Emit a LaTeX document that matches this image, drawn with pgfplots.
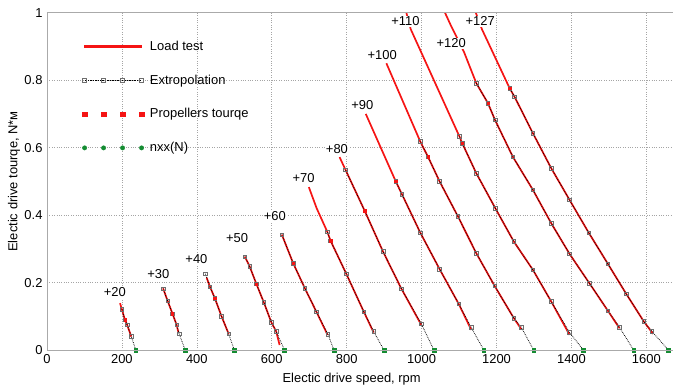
\documentclass[border=0pt]{standalone}
\usepackage{fontspec}
\setmainfont{Liberation Sans}
\usepackage{pgfplots}
\pgfplotsset{compat=1.18}
\definecolor{gridgray}{RGB}{165,165,165}
\definecolor{axgray}{RGB}{170,170,170}
\definecolor{sqgray}{RGB}{110,110,110}
\definecolor{nxxgreen}{RGB}{20,140,50}
\definecolor{loadred}{RGB}{245,20,20}
\begin{document}
\begin{tikzpicture}
\begin{axis}[
  name=ax,
  font=\fontsize{13}{15}\selectfont,
  /pgf/number format/assume math mode=true,
  scale only axis, width=626bp, height=337.6bp,
  xmin=0, xmax=1670, ymin=0, ymax=1,
  xtick={0,200,400,600,800,1000,1200,1400,1600},
  ytick={0,0.2,0.4,0.6,0.8,1},
  yticklabels={0,0.2,0.4,0.6,0.8,1},
  xticklabels={0,200,400,600,800,1000,1200,1400,1600},
  grid=major,
  major grid style={gridgray, dotted, line width=0.6pt},
  axis line style={draw=none},
  major tick length=0pt,
  xlabel={Electic drive speed, rpm},
  ylabel={Electic drive tourqe, N*м},
  xticklabel style={yshift=-1bp},
  yticklabel style={inner sep=1bp, xshift=-3.3bp},
  xlabel style={at={(ticklabel cs:0.487)}, yshift=-3bp},
  legend style={at={(axis description cs:0.056,0.92)}, anchor=north west, draw=none, fill=none,
    inner sep=0pt, row sep=21bp, column sep=0pt, nodes={inner sep=1bp}},
  legend cell align=left,
  every axis plot/.append style={forget plot},
]
\addlegendimage{legend image code/.code={\fill[loadred] (0bp,-0.8bp) rectangle (57bp,0.8bp);}}
\addlegendentry{\hspace{5bp}Load test}
\addlegendimage{legend image code/.code={\draw[black, densely dotted, line width=0.7pt] (0bp,0bp) -- (57bp,0bp);
  \foreach \q in {0,19,38,57}{\draw[sqgray, line width=0.6pt] (\q bp-2bp,-2bp) rectangle (\q bp+2bp,2bp);}}}
\addlegendentry{\hspace{5bp}Extropolation}
\addlegendimage{legend image code/.code={\foreach \q in {0,19,38,57}{\fill[loadred] (\q bp-2.2bp,-2.2bp) rectangle (\q bp+2.2bp,2.2bp);}}}
\addlegendentry{\hspace{5bp}Propellers tourqe}
\addlegendimage{legend image code/.code={\foreach \q in {0,19,38,57}{\fill[nxxgreen] (\q bp,0bp) circle (2.2bp);}}}
\addlegendentry{\hspace{5bp}nxx(N)}

% ---------- Load test (red lines) ----------
\pgfplotsset{loadstyle/.style={loadred, line width=1.7pt}}
\addplot[loadstyle] coordinates {(195,0.139) (200,0.121) (208,0.090) (214,0.075) (225,0.040)};
\addplot[loadstyle] coordinates {(310,0.183) (322,0.146) (335,0.108) (346,0.075) (351,0.052)};
\addplot[loadstyle] coordinates {(426,0.215) (435,0.188) (448,0.154) (466,0.100) (485,0.048)};
\addplot[loadstyle] coordinates {(528,0.277) (541,0.248) (559,0.196) (579,0.141) (599,0.082) (612,0.055) (621,0.015)};
\addplot[loadstyle] coordinates {(627,0.342) (657,0.258) (688,0.184) (719,0.114) (749,0.045)};
\addplot[loadstyle] coordinates {(699,0.483) (720,0.420) (748.5,0.350) (757,0.324) (799,0.226) (846,0.113) (872,0.052)};
\addplot[loadstyle] coordinates {(781,0.572) (797,0.534) (848,0.413) (897,0.292) (946,0.182) (999,0.075)};
\addplot[loadstyle] coordinates {(851,0.700) (931,0.500) (947.5,0.462) (996.5,0.348) (1048,0.240) (1099,0.137) (1132.5,0.060)};
\addplot[loadstyle] coordinates {(906,0.850) (996.5,0.618) (1017,0.573) (1048,0.500) (1097,0.396) (1146,0.287) (1195,0.190) (1246,0.095) (1266,0.062)};
\addplot[loadstyle] coordinates {(945,1.060) (971,0.951) (1101,0.633) (1108.5,0.613) (1146,0.524) (1197,0.420) (1246,0.322) (1297,0.238) (1346,0.144) (1395,0.045)};
\addplot[loadstyle] coordinates {(1050,1.030) (1079,0.960) (1113,0.884) (1146,0.791) (1177,0.732) (1196,0.682) (1243.5,0.573) (1297,0.475) (1346,0.376) (1395,0.285) (1448,0.198) (1497,0.117) (1528,0.065)};
\addplot[loadstyle] coordinates {(1128,1.050) (1161,0.951) (1235,0.776) (1248,0.751) (1297,0.643) (1346,0.539) (1395,0.445) (1446,0.348) (1497,0.256) (1546,0.167) (1593,0.085) (1618,0.048)};

% ---------- Extrapolation ----------
\pgfplotsset{extstyle/.style={black, densely dotted, line width=0.75pt, mark=square, mark size=1.8pt, mark options={solid, draw=sqgray, fill=none, line width=0.6pt}}}
\addplot[extstyle, mark indices={1,2,3,4}] coordinates {(200,0.121) (208,0.090) (214,0.075) (225,0.041) (237,0)};
\addplot[extstyle, mark indices={1,2,3,4,5}] coordinates {(310,0.182) (322,0.146) (335,0.108) (346,0.075) (353,0.048) (369,0)};
\addplot[extstyle, mark indices={1,2,3,4,5}] coordinates {(423,0.226) (435,0.188) (448,0.154) (466,0.100) (485,0.048) (500,0)};
\addplot[extstyle, mark indices={1,2,3,4,5,6}] coordinates {(528,0.277) (541,0.248) (559,0.196) (579,0.141) (599,0.082) (612,0.055) (634,0)};
\addplot[extstyle, mark indices={1,2,3,4,5}] coordinates {(627,0.342) (657,0.258) (688,0.184) (719,0.114) (750,0.047) (766,0)};
\addplot[extstyle, mark indices={1,2,3,4,5}] coordinates {(748.5,0.350) (757,0.324) (799,0.226) (846,0.113) (872,0.055) (899.5,0)};
\addplot[extstyle, mark indices={1,2,3,4,5}] coordinates {(797,0.534) (848,0.413) (897,0.292) (946,0.182) (999,0.078) (1033,0)};
\addplot[extstyle, mark indices={1,2,3,4,5,6}] coordinates {(931,0.500) (947.5,0.462) (996.5,0.348) (1048,0.240) (1099,0.137) (1132.5,0.067) (1166,0)};
\addplot[extstyle, mark indices={1,2,3,4,5,6,7,8}] coordinates {(996.5,0.618) (1017,0.573) (1048,0.500) (1097,0.396) (1146,0.287) (1195,0.190) (1246,0.095) (1266,0.068) (1299,0)};
\addplot[extstyle, mark indices={1,2,3,4,5,6,7,8,9}] coordinates {(1101,0.633) (1108.5,0.613) (1146,0.524) (1197,0.420) (1246,0.322) (1297,0.238) (1346,0.144) (1395,0.052) (1432,0)};
\addplot[extstyle, mark indices={1,2,3,4,5,6,7,8,9,10}] coordinates {(1146,0.791) (1177,0.732) (1196,0.682) (1243.5,0.573) (1297,0.475) (1346,0.376) (1395,0.285) (1448,0.198) (1497,0.117) (1528,0.068) (1566,0)};
\addplot[extstyle, mark indices={1,2,3,4,5,6,7,8,9,10,11}] coordinates {(1235,0.776) (1248,0.751) (1297,0.643) (1346,0.539) (1395,0.445) (1446,0.348) (1497,0.256) (1546,0.167) (1593,0.085) (1615,0.055) (1659,0)};

% ---------- Propellers torque ----------
\addplot[only marks, loadred, mark=square*, mark size=1.2pt] coordinates {
(208,0.090) (335,0.108) (448,0.154) (559,0.196) (657,0.258) (757,0.324) (848,0.413) (931,0.500) (1017,0.573) (1108.5,0.613) (1177,0.732) (1235,0.776)};

% ---------- nxx(N) ----------
\addplot[only marks, nxxgreen, mark=square*, mark size=1.8pt] coordinates {
(237,0) (369,0) (500,0) (634,0) (766,0) (899.5,0) (1033,0) (1166,0) (1299,0) (1432,0) (1566,0) (1659,0)};

% ---------- curve labels ----------
\foreach \px/\py/\t in {181/0.172/+20, 297/0.225/+30, 399/0.270/+40, 507.5/0.332/+50, 608/0.396/+60, 685/0.509/+70, 774/0.595/+80, 842/0.725/+90, 895/0.875/+100, 957/0.975/+110, 1079/0.909/+120, 1156.5/0.975/+127}{
  \edef\temp{\noexpand\node[fill=white, inner sep=1bp, font=\noexpand\fontsize{13}{15}\noexpand\selectfont] at (axis cs:\px,\py) {\t};}
  \temp
}
\end{axis}
\draw[axgray, line width=0.8pt] (ax.north east) -- (ax.north west) -- (ax.south west) -- (ax.south east);
\path (ax.north west) ++(-47bp,12.7bp) coordinate (bbtl);
\path (bbtl) rectangle (ax.south east);
\end{tikzpicture}
\end{document}
